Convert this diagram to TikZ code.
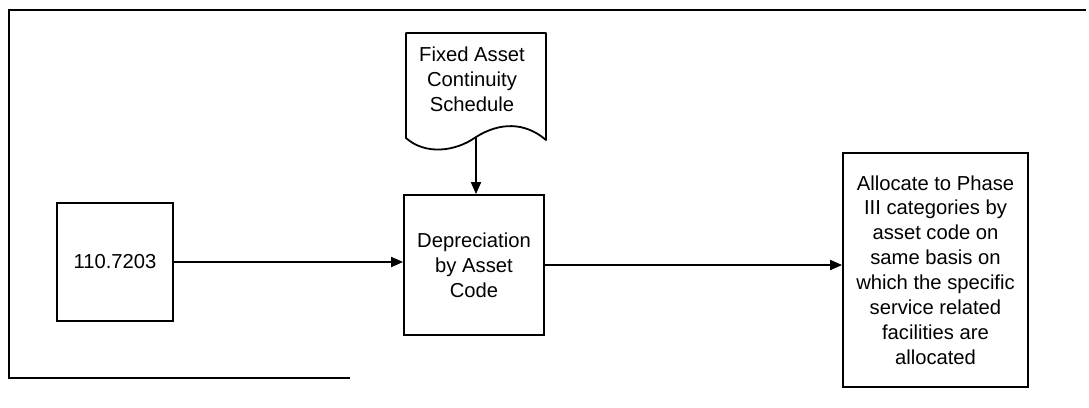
\documentclass[tikz,border=0pt]{standalone}
\usepackage{fontspec}
\setmainfont{Liberation Sans}
\usetikzlibrary{arrows.meta}
\begin{document}
\begin{tikzpicture}[x=1bp,y=-1bp,
  txt/.style={align=center,inner sep=0pt,font=\fontsize{20.3}{25}\selectfont},
  box/.style={txt,draw,line width=1.8bp},
  conn/.style={line width=1.8bp,-{Triangle[length=12bp,width=10bp]}},
  frame/.style={line width=2.4bp},
  docline/.style={line width=1.8bp,line join=round}]
\useasboundingbox (0,0) rectangle (1089,407);
\draw[frame] (1086,10) -- (9,10) -- (9,378) -- (350,378);
\node[box,minimum width=116bp,minimum height=118bp] (b1) at (115,262) {110.7203};
\node[box,minimum width=140bp,minimum height=140bp] (dep) at (474,265) {Depreciation\\by Asset\\Code};
\node[box,minimum width=185bp,minimum height=234bp] (alloc) at (935.5,270) {Allocate to Phase\\III categories by\\asset code on\\same basis on\\which the specific\\service related\\facilities are\\allocated};
\draw[docline] (406,138) -- (406,33) -- (546,33) -- (546,140)
  .. controls (525,122) and (500,122) .. (476,137)
  .. controls (455,152) and (425,155) .. (406,138) -- cycle;
\node[txt] (doc) at (472,79) {Fixed Asset\\Continuity\\Schedule};
\coordinate (docb) at (476,138);
\draw[conn] (docb) -- (docb |- dep.north);
\draw[conn] (b1.east) -- (b1.east -| dep.west);
\draw[conn] (dep.east) -- (dep.east -| alloc.west);
\end{tikzpicture}
\end{document}
